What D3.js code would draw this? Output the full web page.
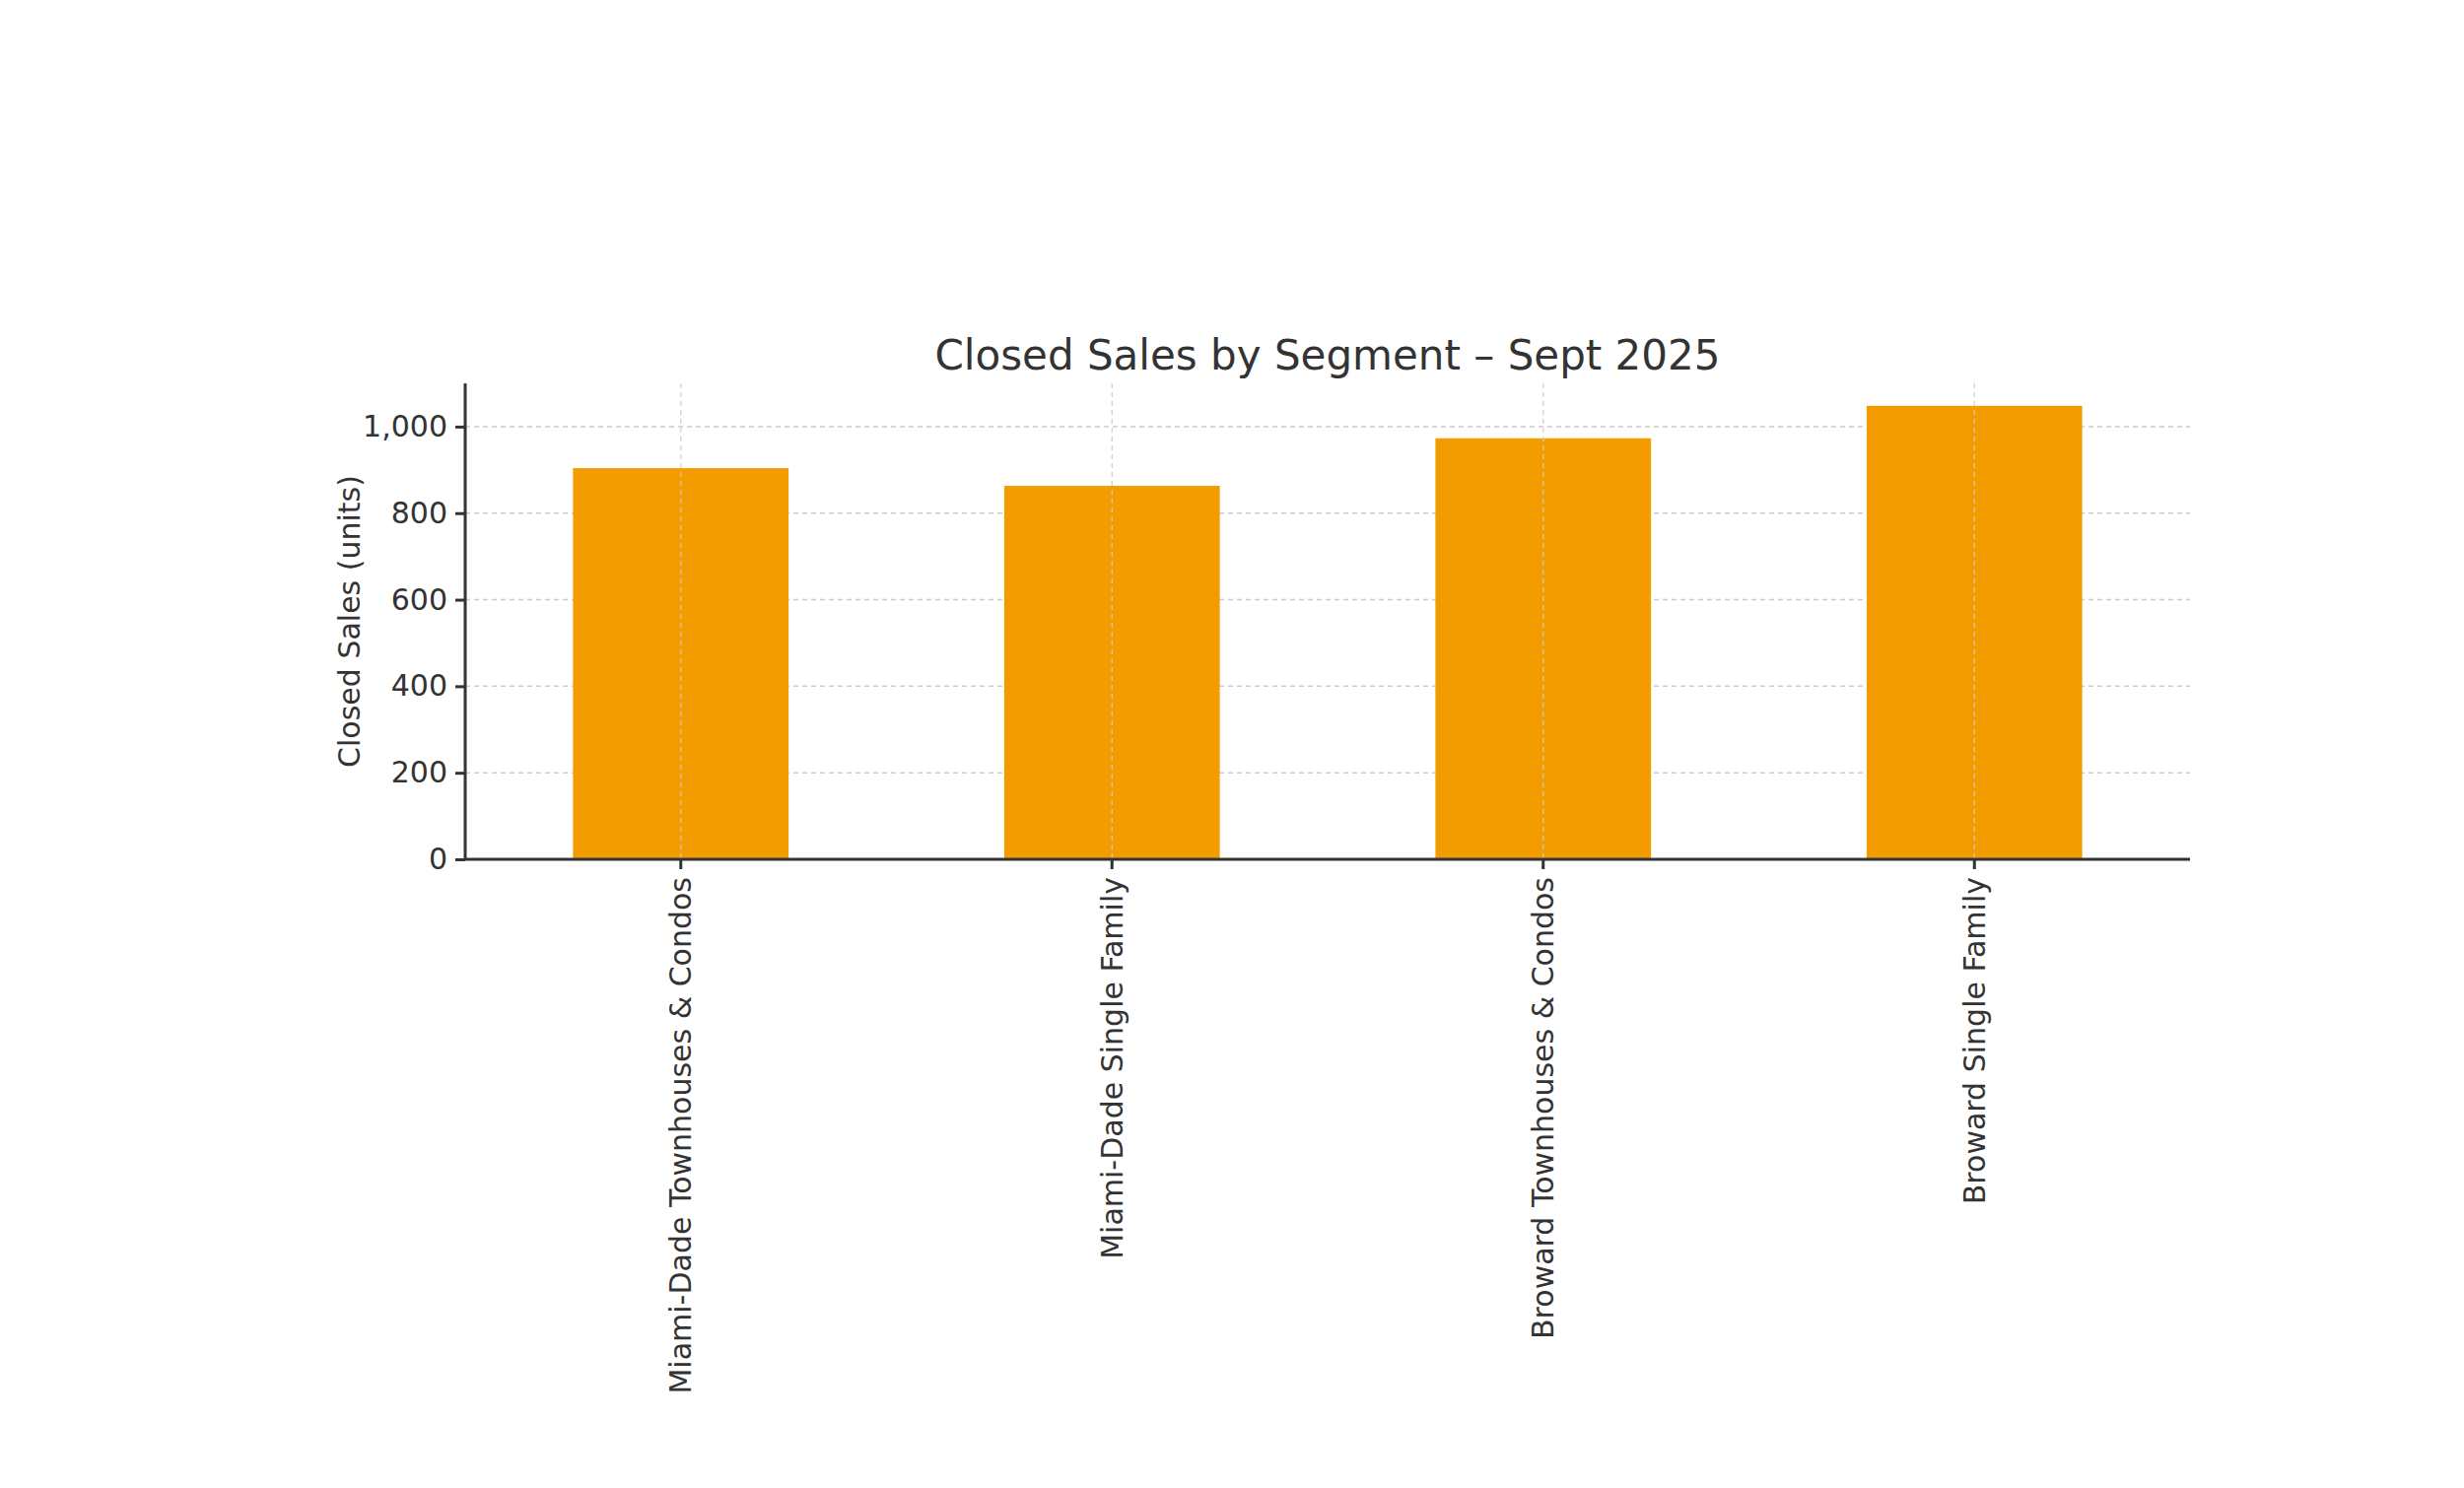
<!DOCTYPE html>
<html><head><meta charset="utf-8">
<script src="https://cdn.jsdelivr.net/npm/d3@7"></script>
<style>body{margin:0;background:#fff}text{font-family:"DejaVu Sans";fill:#333}</style>
</head><body><svg id="c" width="2500" height="1510"></svg>
<script>
const categories=["Miami-Dade Townhouses & Condos","Miami-Dade Single Family","Broward Townhouses & Condos","Broward Single Family"];
const values=[904,863,973,1048];
const yTicks=[0,200,400,600,800,1000];
const title="Closed Sales by Segment – Sept 2025";
const yLabel="Closed Sales (units)";

const m={l:472,r:2222,t:389,b:872};
const svg=d3.select("#c");
const x=d3.scaleBand().domain(categories).range([m.l,m.r]).paddingInner(0.5).paddingOuter(0.25);
const y=d3.scaleLinear().domain([0,1100]).range([m.b,m.t]);
const grid="#cccccc";
// grid
svg.append("g").selectAll("line").data(yTicks).join("line")
 .attr("x1",m.l).attr("x2",m.r).attr("y1",d=>y(d)).attr("y2",d=>y(d))
 .attr("stroke",grid).attr("stroke-width",1.5).attr("stroke-dasharray","5,4");
// bars
svg.append("g").selectAll("rect").data(values).join("rect")
 .attr("x",(d,i)=>x(categories[i])).attr("width",x.bandwidth())
 .attr("y",d=>y(d)).attr("height",d=>y(0)-y(d)).attr("fill","#F39C00");
svg.append("g").selectAll("line").data(categories).join("line")
 .attr("x1",d=>x(d)+x.bandwidth()/2).attr("x2",d=>x(d)+x.bandwidth()/2).attr("y1",m.t).attr("y2",m.b)
 .attr("stroke",grid).attr("stroke-opacity",0.8).attr("stroke-width",1.5).attr("stroke-dasharray","5,4");
// axes
const ya=svg.append("g").attr("transform",`translate(${m.l},0)`).call(d3.axisLeft(y).tickValues(yTicks).tickSize(10).tickPadding(8));
const xa=svg.append("g").attr("transform",`translate(0,${m.b})`).call(d3.axisBottom(x).tickSize(10).tickPadding(8));
[ya,xa].forEach(a=>{a.selectAll("path,line").attr("stroke","#333").attr("stroke-width",3);a.selectAll("text").attr("font-size",30).attr("font-family","DejaVu Sans").attr("fill","#333");});
ya.select("path").attr("d",`M0,${m.b}V${m.t}`);
xa.select("path").attr("d",`M${m.l},0H${m.r}`);
xa.selectAll("text").attr("transform","rotate(-90)").attr("text-anchor","end").attr("dy","0.35em").attr("x",-18).attr("y",0);
svg.append("text").attr("x",(m.l+m.r)/2).attr("y",375).attr("text-anchor","middle").attr("font-size",42).text(title);
svg.append("text").attr("transform",`translate(365,${(m.t+m.b)/2}) rotate(-90)`).attr("text-anchor","middle").attr("font-size",30).text(yLabel);
</script></body></html>
